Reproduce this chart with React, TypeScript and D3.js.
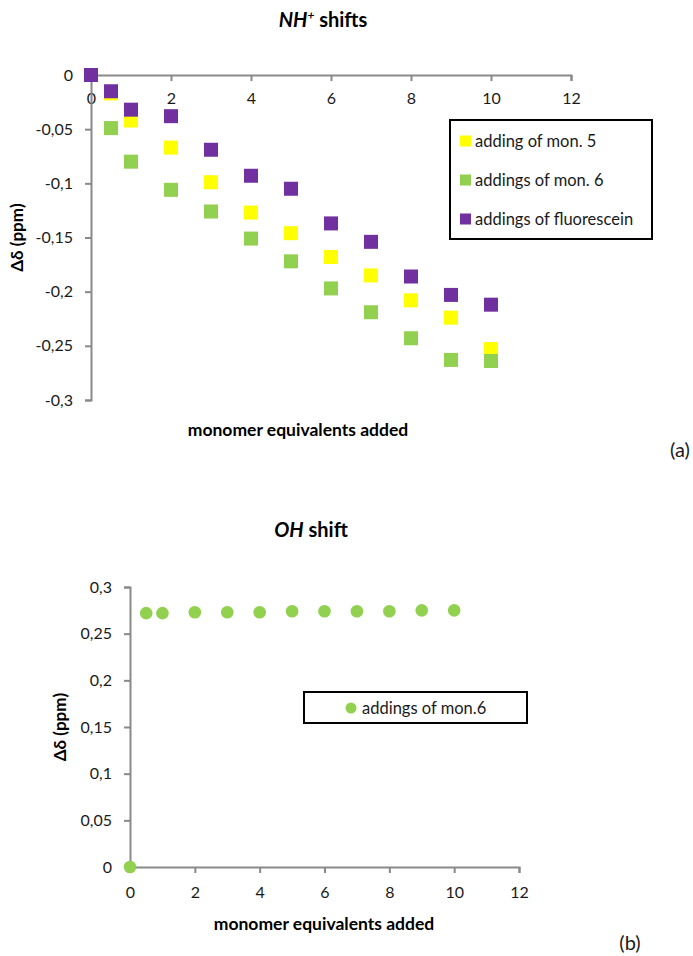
import React, { useEffect, useRef } from 'react'
import { select, scaleLinear, axisBottom, axisLeft } from 'd3'

// monomer equivalents added (x values shared by both panels)
const equivalents = [0, 0.5, 1, 2, 3, 4, 5, 6, 7, 8, 9, 10]

// (a) NH+ shifts, ppm
const mon5Shifts = [0, -0.017, -0.042, -0.067, -0.099, -0.127, -0.146, -0.168, -0.185, -0.208, -0.224, -0.253]
const mon6Shifts = [0, -0.049, -0.080, -0.106, -0.126, -0.151, -0.172, -0.197, -0.219, -0.243, -0.263, -0.264]
const fluoresceinShifts = [0, -0.015, -0.032, -0.038, -0.069, -0.093, -0.105, -0.137, -0.154, -0.186, -0.203, -0.212]

// (b) OH shift, ppm
const ohShifts = [0, 0.272, 0.272, 0.273, 0.273, 0.273, 0.274, 0.274, 0.274, 0.274, 0.275, 0.275]

const xTicks = [0, 2, 4, 6, 8, 10, 12]
const nhTicks = [0, -0.05, -0.1, -0.15, -0.2, -0.25, -0.3]
const ohTicks = [0, 0.05, 0.1, 0.15, 0.2, 0.25, 0.3]

const nhSeries = [
  { label: 'adding of mon. 5', color: '#FFFF00', values: mon5Shifts },
  { label: 'addings of mon. 6', color: '#92D050', values: mon6Shifts },
  { label: 'addings of fluorescein', color: '#7030A0', values: fluoresceinShifts },
]
const ohLabel = 'addings of mon.6'
const ohColor = '#92D050'

const FONT = 'Lato, "Open Sans", sans-serif'
const AXIS = '#898989'
const TEXT = '#1a1a1a'

const comma = (v: number) => String(+v.toFixed(2)).replace('.', ',')

// panel (a)
const xA = scaleLinear().domain([0, 12]).range([91, 571])
const yA = scaleLinear().domain([-0.3, 0]).range([400, 75])
// panel (b)
const xB = scaleLinear().domain([0, 12]).range([130, 519])
const yB = scaleLinear().domain([0, 0.3]).range([867, 587])

const styleAxis = (g: any) => {
  g.attr('font-family', FONT).attr('font-size', 16)
  g.select('.domain').attr('stroke', AXIS).attr('stroke-width', 2)
  g.selectAll('.tick line').attr('stroke', AXIS).attr('stroke-width', 2)
  g.selectAll('.tick text').attr('fill', TEXT)
}

export default function App() {
  const svgRef = useRef<SVGSVGElement | null>(null)

  useEffect(() => {
    if (!svgRef.current) return
    const svg = select(svgRef.current)

    svg.select<SVGGElement>('#xa')
      .attr('transform', `translate(0, ${yA(0)})`)
      .call(axisBottom(xA).tickValues(xTicks).tickSize(6).tickPadding(12).tickFormat(d => comma(+d)))
      .call(styleAxis)
    svg.select<SVGGElement>('#ya')
      .attr('transform', `translate(${xA(0)}, 0)`)
      .call(axisLeft(yA).tickValues(nhTicks).tickSize(6).tickPadding(12).tickFormat(d => comma(+d)))
      .call(styleAxis)

    svg.select<SVGGElement>('#xb')
      .attr('transform', `translate(0, ${yB(0)})`)
      .call(axisBottom(xB).tickValues(xTicks).tickSize(6).tickPadding(14).tickFormat(d => comma(+d)))
      .call(styleAxis)
    svg.select<SVGGElement>('#yb')
      .attr('transform', `translate(${xB(0)}, 0)`)
      .call(axisLeft(yB).tickValues(ohTicks).tickSize(6).tickPadding(12).tickFormat(d => comma(+d)))
      .call(styleAxis)
  }, [])

  const sq = 14

  return (
    <svg
      ref={svgRef}
      width={693}
      height={956}
      style={{ position: 'absolute', left: 0, top: 0, background: '#fff' }}
      fontFamily={FONT}
    >
      {/* ---------- (a) NH+ shifts ---------- */}
      <text x={323} y={27} textAnchor='middle' fontSize={20} fontWeight='bold' fill='#000'>
        <tspan fontStyle='italic'>NH</tspan>
        <tspan fontStyle='italic' fontSize={12} dy={-8}>+</tspan>
        <tspan dy={8}> shifts</tspan>
      </text>
      <g id='xa' />
      <g id='ya' />
      {nhSeries.map(s => (
        <g key={s.label} fill={s.color}>
          {s.values.map((v, i) => (
            <rect key={i} x={xA(equivalents[i]) - sq / 2} y={yA(v) - sq / 2} width={sq} height={sq} />
          ))}
        </g>
      ))}
      <text
        transform={`translate(23, ${(yA(0) + yA(-0.3)) / 2}) rotate(-90)`}
        textAnchor='middle'
        fontSize={17}
        fontWeight='bold'
        fill='#000'
      >Δδ (ppm)</text>
      <text x={298} y={436} textAnchor='middle' fontSize={17.5} fontWeight='bold' fill='#000'>
        monomer equivalents added
      </text>
      <text x={680} y={457} textAnchor='middle' fontSize={20} fill={TEXT}>(a)</text>

      <rect x={450} y={120} width={202} height={119} fill='#fff' stroke='#000' strokeWidth={2} />
      {nhSeries.map((s, i) => (
        <g key={s.label} transform={`translate(460, ${141 + i * 39})`}>
          <rect x={0} y={-5.5} width={11} height={11} fill={s.color} />
          <text x={15} y={5.5} fontSize={16.5} fill={TEXT}>{s.label}</text>
        </g>
      ))}

      {/* ---------- (b) OH shift ---------- */}
      <text x={311} y={537} textAnchor='middle' fontSize={20} fontWeight='bold' fill='#000'>
        <tspan fontStyle='italic'>OH</tspan>
        <tspan> shift</tspan>
      </text>
      <g id='xb' />
      <g id='yb' />
      <g fill={ohColor}>
        {ohShifts.map((v, i) => (
          <circle key={i} cx={xB(equivalents[i])} cy={yB(v)} r={6.3} />
        ))}
      </g>
      <text
        transform={`translate(66, ${(yB(0) + yB(0.3)) / 2}) rotate(-90)`}
        textAnchor='middle'
        fontSize={17}
        fontWeight='bold'
        fill='#000'
      >Δδ (ppm)</text>
      <text x={324} y={930} textAnchor='middle' fontSize={17.5} fontWeight='bold' fill='#000'>
        monomer equivalents added
      </text>
      <text x={630} y={950} textAnchor='middle' fontSize={20} fill={TEXT}>(b)</text>

      <rect x={304} y={692} width={223} height={31} fill='#fff' stroke='#000' strokeWidth={2} />
      <circle cx={351} cy={708} r={5.5} fill={ohColor} />
      <text x={362} y={713.5} fontSize={16.5} fill={TEXT}>{ohLabel}</text>
    </svg>
  )
}
